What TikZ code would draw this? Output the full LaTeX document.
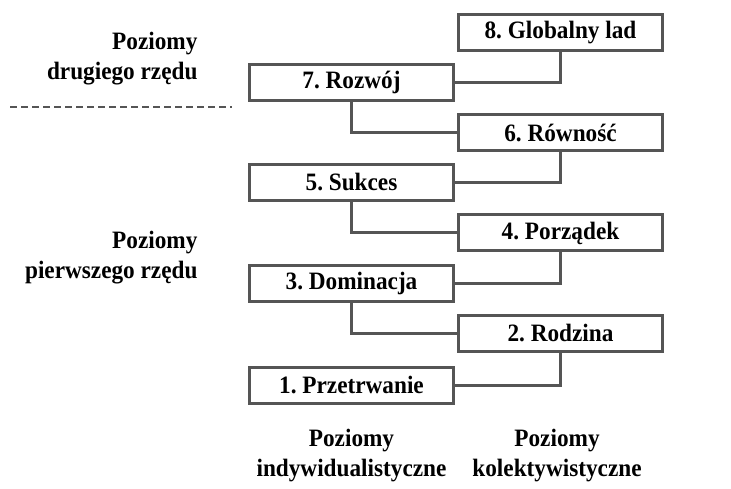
\documentclass[tikz,border=0pt]{standalone}
\usepackage{fontspec}
\setmainfont{Liberation Serif}[FakeStretch=0.93]
\definecolor{framegray}{HTML}{555555}
\frenchspacing

\begin{document}
\begin{tikzpicture}[
        x=1pt,y=-1pt,
        level/.style={draw=framegray,line width=3pt,fill=white,
                      minimum width=204pt,minimum height=36pt,inner sep=0pt,
                      font={\fontsize{25}{28}\selectfont\bfseries}},
        link/.style={draw=framegray,line width=3pt},
        group/.style={font={\fontsize{25}{30}\selectfont\bfseries}},
        ]

        % Page frame
        \useasboundingbox (0,0) rectangle (731,489);

        % Left column: individualistic levels
        \node[level] (l7) at (351.5,82.5) {7. Rozwój};
        \node[level] (l5) at (351.5,182.5) {5. Sukces};
        \node[level] (l3) at (351.5,283.5) {3. Dominacja};
        \node[level] (l1) at (351.5,385) {1. Przetrwanie};

        % Right column: collective levels
        \node[level] (l8) at (560.5,32.5) {8. Globalny lad};
        \node[level] (l6) at (560.5,132.5) {6. Równość};
        \node[level] (l4) at (560.5,233) {4. Porządek};
        \node[level] (l2) at (560.5,333.5) {2. Rodzina};

        % Steps between the levels
        \draw[link] (l8) |- (l7);
        \draw[link] (l7) |- (l6);
        \draw[link] (l6) |- (l5);
        \draw[link] (l5) |- (l4);
        \draw[link] (l4) |- (l3);
        \draw[link] (l3) |- (l2);
        \draw[link] (l2) |- (l1);

        % Group labels on the left
        \node[group,align=right,anchor=east] (second) at (201,58.5) {Poziomy\\drugiego rzędu};
        \node[group,align=right,anchor=east] (first) at (201,257.5) {Poziomy\\pierwszego rzędu};

        % Border between the orders
        \coordinate (cutl) at (10,107);
        \coordinate (cutr) at (232,107);
        \draw[framegray,line width=2pt,dash pattern=on 7pt off 4pt] (cutl) -- (cutr);

        % Column labels
        \node[group,align=center] (indiv) at (351.5,456) {Poziomy\\indywidualistyczne};
        \node[group,align=center] (coll) at (557,456) {Poziomy\\kolektywistyczne};
    \end{tikzpicture}
\end{document}
